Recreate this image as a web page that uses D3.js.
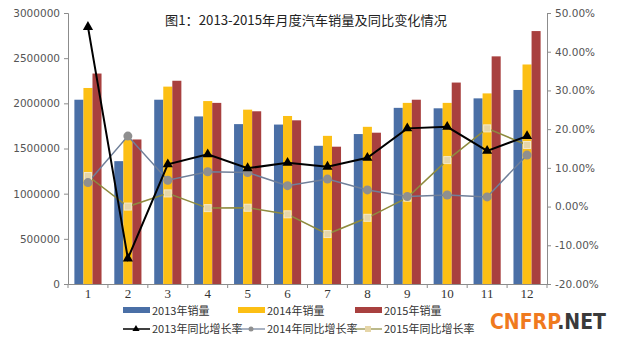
<!DOCTYPE html>
<html><head><meta charset="utf-8">
<script src="https://cdn.jsdelivr.net/npm/d3@7/dist/d3.min.js"></script>
<style>body{margin:0;background:#fff;}svg{display:block;}</style>
</head><body>
<svg id="c" width="618" height="337"></svg>
<script>
const months = ["1","2","3","4","5","6","7","8","9","10","11","12"];
const sales2013 = [2040000,1360000,2040000,1855000,1770000,1765000,1530000,1660000,1950000,1945000,2055000,2148000];
const sales2014 = [2170000,1595000,2185000,2025000,1930000,1860000,1640000,1740000,2005000,2005000,2110000,2430000];
const sales2015 = [2330000,1600000,2250000,2005000,1912000,1812000,1520000,1675000,2040000,2230000,2520000,2800000];
const growth2013 = [46.4,-13.4,10.9,13.5,9.9,11.3,10.3,12.6,20.2,20.6,14.4,18.2];
const growth2014 = [6.2,18.2,6.8,9.0,8.8,5.4,7.1,4.3,2.6,3.0,2.5,13.3];
const growth2015 = [7.9,0.0,3.4,-0.4,-0.3,-2.0,-7.1,-2.9,2.3,12.0,20.2,15.9];
const leftTicks = [0,500000,1000000,1500000,2000000,2500000,3000000];
const rightTicks = [-20,-10,0,10,20,30,40,50];
const barNames = ["2013年销量","2014年销量","2015年销量"];
const lineNames = ["2013年同比增长率","2014年同比增长率","2015年同比增长率"];
const title = "图1：2013-2015年月度汽车销量及同比变化情况";

const svg = d3.select("#c");
const L = 68, R = 547, T = 13, B = 284;
const x = d3.scaleBand().domain(months).range([L, R]);
const yL = d3.scaleLinear().domain([0, 3000000]).range([B, T]);
const yR = d3.scaleLinear().domain([-20, 50]).range([B, T]);
const barColors = ["#4A6FA6", "#FCBF14", "#A8403F"];
const salesData = [sales2013, sales2014, sales2015];
const sub = d3.scaleBand().domain([0,1,2]).range([0, x.bandwidth()*0.68]);
const off = x.bandwidth()*0.16;

const axisColor = "#8c8c8c";
const tickFont = "'DejaVu Sans', sans-serif";

// bars
salesData.forEach((s, i) => {
  svg.append("g").selectAll("rect").data(s).join("rect")
    .attr("x", (d, j) => x(months[j]) + off + sub(i))
    .attr("width", sub.bandwidth())
    .attr("y", d => yL(d))
    .attr("height", d => B - yL(d))
    .attr("fill", barColors[i]);
});

// axes
const gl = svg.append("g").attr("transform", `translate(${L},0)`)
  .call(d3.axisLeft(yL).tickValues(leftTicks).tickFormat(d3.format("d")).tickSize(4).tickPadding(4));
const gr = svg.append("g").attr("transform", `translate(${R},0)`)
  .call(d3.axisRight(yR).tickValues(rightTicks).tickFormat(d => d.toFixed(2) + "%").tickSize(4).tickPadding(4));
const gb = svg.append("g").attr("transform", `translate(0,${B})`)
  .call(d3.axisBottom(x).tickSize(0).tickPadding(5));
[gl, gr, gb].forEach(g => {
  g.select(".domain").attr("stroke", axisColor);
  g.selectAll(".tick line").attr("stroke", axisColor);
  g.selectAll("text").attr("fill", "#555").style("font-family", tickFont).style("font-size", "10.5px");
});
gb.selectAll("text").style("font-family", "'Liberation Serif', serif").style("font-size", "13px").attr("fill", "#333");
// category boundary ticks on bottom axis
svg.append("g").selectAll("line").data(months.concat(["end"])).join("line")
  .attr("x1", (d, i) => i < 12 ? x(d) : R).attr("x2", (d, i) => i < 12 ? x(d) : R)
  .attr("y1", B).attr("y2", B + 4).attr("stroke", axisColor);

// lines
const lineGen = d3.line().x((d, i) => x(months[i]) + x.bandwidth()/2).y(d => yR(d));
svg.append("path").attr("d", lineGen(growth2015)).attr("fill", "none").attr("stroke", "#8E8B3E").attr("stroke-width", 1.5);
svg.append("path").attr("d", lineGen(growth2014)).attr("fill", "none").attr("stroke", "#6F7F99").attr("stroke-width", 1.5);
svg.append("path").attr("d", lineGen(growth2013)).attr("fill", "none").attr("stroke", "#000").attr("stroke-width", 2);

svg.append("g").selectAll("rect").data(growth2015).join("rect")
  .attr("x", (d, i) => x(months[i]) + x.bandwidth()/2 - 3.5).attr("y", d => yR(d) - 3.5)
  .attr("width", 7).attr("height", 7).attr("fill", "#E6D6A8").attr("stroke", "#F3E9CC").attr("stroke-width", 1);
svg.append("g").selectAll("circle").data(growth2014).join("circle")
  .attr("cx", (d, i) => x(months[i]) + x.bandwidth()/2).attr("cy", d => yR(d))
  .attr("r", 4.5).attr("fill", "#8F8F8F");
const tri = d3.symbol().type(d3.symbolTriangle).size(45);
svg.append("g").selectAll("path").data(growth2013).join("path")
  .attr("d", tri)
  .attr("transform", (d, i) => `translate(${x(months[i]) + x.bandwidth()/2},${yR(d)})`)
  .attr("fill", "#000");

// title
svg.append("text").attr("x", 165).attr("y", 25).text(title)
  .style("font-family", "'Noto Sans CJK SC', sans-serif").style("font-size", "13px").attr("fill", "#222")
  .attr("textLength", 282).attr("lengthAdjust", "spacingAndGlyphs");

// legend row 1
const lg1x = [123, 238, 355];
barNames.forEach((n, i) => {
  svg.append("rect").attr("x", lg1x[i]).attr("y", 307).attr("width", 27).attr("height", 6).attr("fill", barColors[i]);
  svg.append("text").attr("x", lg1x[i] + 29).attr("y", 315).text(n)
    .style("font-family", "'Noto Sans CJK SC', sans-serif").style("font-size", "11px").attr("fill", "#333");
});
// legend row 2
const lg2x = [123, 238, 355];
const lineColors = ["#000", "#6F7F99", "#8E8B3E"];
lineNames.forEach((n, i) => {
  const cx = lg2x[i] + 13;
  svg.append("line").attr("x1", lg2x[i]).attr("x2", lg2x[i] + 27).attr("y1", 329).attr("y2", 329)
    .attr("stroke", lineColors[i]).attr("stroke-width", i === 0 ? 1.5 : 1.2);
  if (i === 0) svg.append("path").attr("d", d3.symbol().type(d3.symbolTriangle).size(22)).attr("transform", `translate(${cx},329)`).attr("fill", "#000");
  if (i === 1) svg.append("circle").attr("cx", cx).attr("cy", 329).attr("r", 2.5).attr("fill", "#8F8F8F");
  if (i === 2) svg.append("rect").attr("x", cx - 3).attr("y", 326).attr("width", 6).attr("height", 6).attr("fill", "#E6D6A8");
  svg.append("text").attr("x", lg2x[i] + 29).attr("y", 333).text(n)
    .style("font-family", "'Noto Sans CJK SC', sans-serif").style("font-size", "11px").attr("fill", "#333");
});

// watermark
const wm = svg.append("text").attr("x", 490).attr("y", 329)
  .style("font-family", "'Liberation Sans Narrow', 'DejaVu Sans Condensed', sans-serif")
  .style("font-size", "21px").style("font-weight", "bold")
  .attr("stroke", "#fff").attr("stroke-width", 3).attr("paint-order", "stroke")
  .attr("textLength", 116).attr("lengthAdjust", "spacingAndGlyphs");
wm.append("tspan").text("CNFRP").attr("fill", "#F07A1E");
wm.append("tspan").text(".NET").attr("fill", "#3A3A3A");
</script>
</body></html>
